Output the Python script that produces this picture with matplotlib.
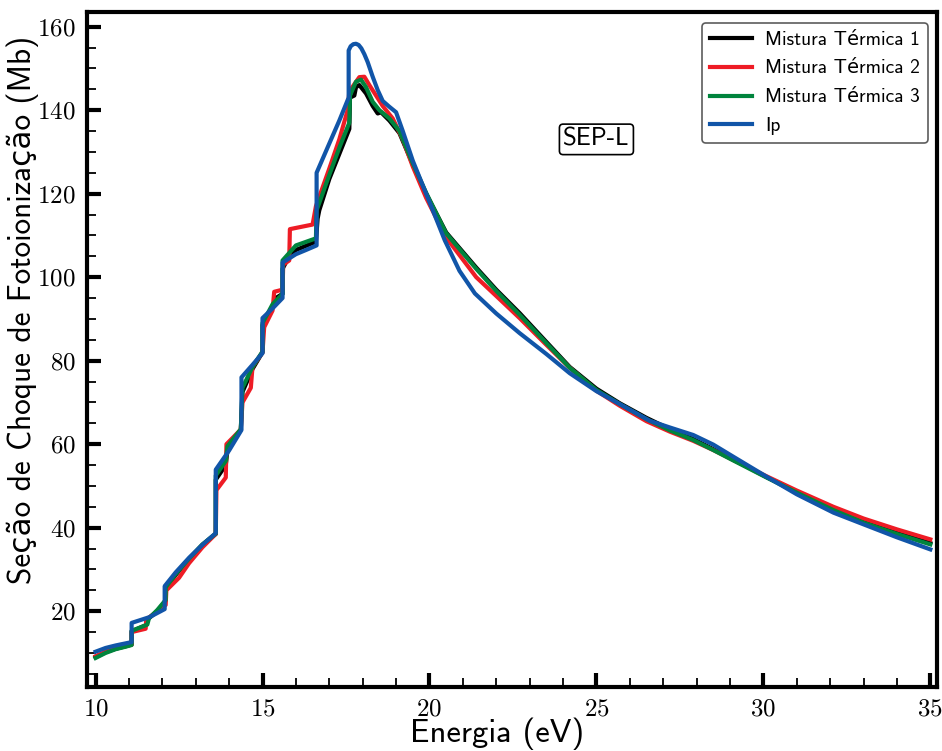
import matplotlib
matplotlib.use("Agg")
import matplotlib.pyplot as plt
from matplotlib.ticker import MultipleLocator

# Photoionization cross sections (Mb) versus photon energy (eV)
x_m1 = [10.0, 10.3, 10.6, 10.9, 11.08, 11.08, 11.5, 11.55, 11.85, 12.1, 12.1, 12.4, 12.8, 13.2, 13.6,
        13.6, 13.9, 13.95, 14.35, 14.4, 14.7, 15.0, 15.0, 15.3, 15.4, 15.6, 15.6, 15.7, 16.0, 16.6,
        16.65, 16.7, 17.0, 17.3, 17.6, 17.62, 17.75, 17.8, 17.9, 18.1, 18.3, 18.45, 18.55, 18.8,
        19.1, 19.5, 19.9, 20.5, 21.4, 22.0, 22.7, 23.5, 24.2, 25.0, 25.7, 26.5, 27.2, 27.9, 28.5,
        29.1, 30.1, 31.0, 32.1, 33.0, 34.0, 35.0]
y_m1 = [9.0, 10.2, 11.0, 11.6, 12.0, 15.2, 16.6, 18.0, 20.0, 22.5, 25.5, 28.7, 32.5, 35.9, 38.5,
        51.5, 55.0, 58.5, 63.5, 72.5, 78.0, 82.0, 88.5, 93.0, 95.0, 96.0, 102.0, 103.5, 106.5, 108.5,
        114.0, 116.0, 123.5, 129.5, 135.5, 143.0, 143.5, 145.5, 146.0, 144.0, 141.0, 139.2, 139.5, 137.5,
        134.5, 127.0, 120.0, 110.7, 102.3, 97.0, 91.4, 84.5, 78.5, 73.3, 69.8, 66.3, 63.6, 61.2, 58.8,
        56.3, 52.1, 48.6, 44.5, 41.6, 38.9, 36.3]

x_m2 = [10.0, 10.3, 10.6, 10.9, 11.08, 11.08, 11.5, 11.52, 11.85, 12.1, 12.12, 12.5, 12.8, 13.2, 13.6,
        13.62, 13.9, 13.92, 14.35, 14.4, 14.65, 14.7, 15.0, 15.05, 15.3, 15.35, 15.6, 15.62, 15.8,
        15.82, 16.5, 16.6, 17.0, 17.3, 17.55, 17.6, 17.9, 18.05, 18.2, 18.4, 18.6, 18.9, 19.2, 19.5,
        19.9, 20.5, 21.4, 22.0, 22.7, 23.5, 24.2, 25.0, 25.7, 26.5, 27.2, 27.9, 28.5, 29.1, 30.1,
        31.0, 32.1, 33.0, 34.0, 35.0]
y_m2 = [9.2, 10.3, 11.1, 11.7, 12.0, 15.0, 15.8, 18.0, 20.0, 21.5, 25.0, 28.0, 31.5, 35.3, 38.5,
        49.0, 52.0, 60.0, 63.5, 70.0, 73.5, 78.5, 82.0, 88.0, 92.0, 96.5, 97.0, 103.0, 104.0,
        111.5, 112.6, 117.0, 126.0, 133.0, 140.0, 144.5, 147.9, 148.0, 146.0, 143.5, 141.0, 138.0, 133.0, 126.5,
        119.0, 109.5, 100.0, 95.5, 90.2, 83.8, 78.3, 72.8, 69.2, 65.5, 63.0, 60.8, 58.6, 56.2, 52.3,
        48.9, 45.0, 42.2, 39.6, 37.2]

x_m3 = [10.0, 10.3, 10.6, 10.9, 11.08, 11.08, 11.55, 11.6, 11.85, 12.1, 12.1, 12.4, 12.8, 13.2, 13.6,
        13.6, 13.9, 13.95, 14.35, 14.4, 14.7, 15.0, 15.0, 15.3, 15.6, 15.6, 16.0, 16.6, 16.62,
        17.0, 17.3, 17.6, 17.62, 17.8, 17.95, 18.1, 18.3, 18.5, 18.8, 19.1, 19.5, 19.9, 20.5, 21.4,
        22.0, 22.7, 23.5, 24.2, 25.0, 25.7, 26.5, 27.2, 27.9, 28.5, 29.1, 30.1, 31.0, 32.1, 33.0,
        34.0, 35.0]
y_m3 = [8.8, 10.0, 10.9, 11.5, 11.9, 15.3, 16.8, 18.3, 20.3, 22.7, 25.7, 28.9, 32.6, 36.0, 38.6,
        52.5, 56.0, 59.5, 63.6, 73.5, 78.5, 82.2, 89.0, 93.5, 96.0, 104.0, 107.6, 109.3, 116.0,
        124.5, 131.0, 137.0, 143.5, 146.8, 147.3, 145.5, 142.0, 140.0, 138.0, 135.0, 127.3, 120.2, 110.5, 102.0,
        96.7, 91.0, 84.2, 78.3, 73.0, 69.6, 66.0, 63.3, 61.0, 58.6, 56.1, 52.0, 48.4, 44.2, 41.2,
        38.5, 36.0]

x_ip = [10.0, 10.3, 10.6, 10.9, 11.08, 11.08, 11.35, 11.62, 12.07, 12.07, 12.4, 12.8, 13.2, 13.6,
        13.6, 14.0, 14.37, 14.37, 14.7, 15.0, 15.0, 15.3, 15.6, 15.6, 16.0, 16.3, 16.62, 16.62,
        17.0, 17.3, 17.58, 17.58, 17.64, 17.72, 17.8, 17.88, 17.96, 18.05, 18.15, 18.3, 18.45, 18.6,
        18.8, 19.0, 19.2, 19.5, 19.9, 20.46, 20.9, 21.36, 22.0, 22.7, 23.5, 24.2, 25.0, 25.7, 26.6,
        27.2, 27.9, 28.5, 29.1, 30.1, 31.0, 32.1, 33.0, 34.0, 35.0]
y_ip = [10.3, 11.2, 11.8, 12.3, 12.6, 17.2, 17.9, 18.6, 20.5, 26.0, 29.3, 32.8, 35.9, 38.7,
        53.9, 58.5, 63.4, 76.0, 79.0, 81.8, 90.2, 92.5, 95.0, 103.5, 105.5, 106.5, 107.6, 125.0,
        132.0, 137.5, 143.0, 154.3, 155.3, 155.8, 155.9, 155.6, 154.8, 153.4, 151.5, 148.0, 144.8, 142.2,
        140.8, 139.5, 135.0, 127.9, 120.0, 108.8, 101.5, 96.1, 91.3, 86.6, 81.6, 77.0, 72.7, 69.6, 65.6,
        64.0, 62.2, 59.9, 57.0, 52.2, 48.0, 43.6, 40.8, 37.7, 34.8]

series_labels = ["Mistura Térmica 1", "Mistura Térmica 2", "Mistura Térmica 3", "Ip"]
series_colors = ["#000000", "#ee1c25", "#00843d", "#1155a8"]

x_ticks = [10, 15, 20, 25, 30, 35]
y_ticks = [20, 40, 60, 80, 100, 120, 140, 160]

sans = ["cmss10", "DejaVu Sans"]
plt.rcParams["axes.formatter.use_mathtext"] = True

fig = plt.figure(figsize=(9.42, 7.51), dpi=100)
ax = fig.add_axes([0.0924, 0.0855, 0.9023, 0.8985])

for xs, ys, lab, col in zip([x_m1, x_m2, x_m3, x_ip], [y_m1, y_m2, y_m3, y_ip],
                            series_labels, series_colors):
    ax.plot(xs, ys, color=col, lw=3.0, label=lab, solid_joinstyle="round")

ax.set_xlim(9.745, 35.2)
ax.set_ylim(1.9, 163.5)
ax.set_xticks(x_ticks)
ax.set_yticks(y_ticks)
ax.xaxis.set_minor_locator(MultipleLocator(1))
ax.yaxis.set_minor_locator(MultipleLocator(5))
ax.tick_params(which="major", direction="in", length=10, width=3, pad=8)
ax.tick_params(which="minor", direction="in", length=6.5, width=1.3)
for lbl in ax.get_xticklabels() + ax.get_yticklabels():
    lbl.set_family("cmr10")
    lbl.set_fontsize(18)
for sp in ax.spines.values():
    sp.set_linewidth(3)

ax.set_xlabel("Energia (eV)", family=sans, fontsize=23.5)
ax.set_ylabel("Seção de Choque de Fotoionização (Mb)", family=sans, fontsize=22.5)
ax.xaxis.set_label_coords(0.482, -0.046)
ax.yaxis.set_label_coords(-0.057, 0.558)

leg = ax.legend(loc="upper right", prop={"family": sans, "size": 14}, frameon=True,
                fancybox=True, handlelength=2.2, handletextpad=0.65, borderpad=0.4,
                labelspacing=0.56, borderaxespad=0.0, bbox_to_anchor=(0.989, 0.984))
leg.get_frame().set_edgecolor("#333333")
leg.get_frame().set_linewidth(1.2)

ax.text(25.0, 133.0, "SEP-L", family=sans, fontsize=18, ha="center", va="center",
        bbox=dict(boxstyle="round,pad=0.15", fc="white", ec="black", lw=1.2))

fig.savefig("out.png", dpi=100)
